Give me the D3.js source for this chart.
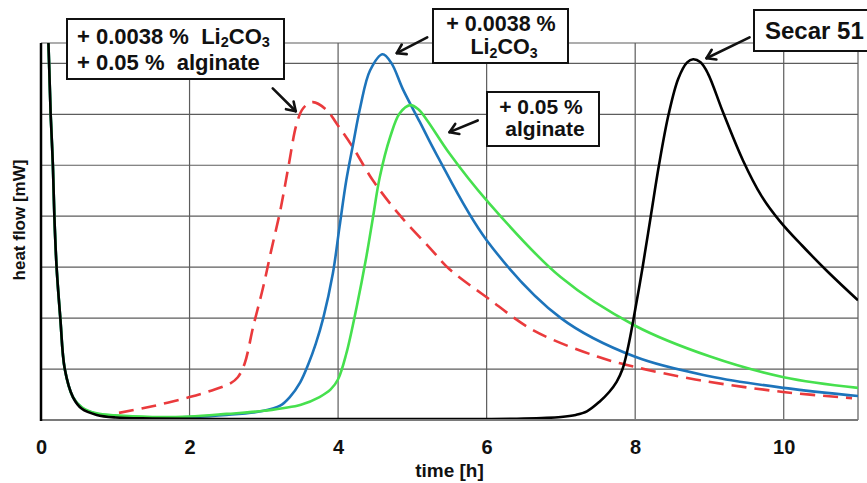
<!DOCTYPE html>
<html>
<head>
<meta charset="utf-8">
<script src="https://cdn.jsdelivr.net/npm/d3@7"></script>
<style>
  html, body { margin: 0; padding: 0; background: #fff; }
  svg { display: block; font-family: "Liberation Sans", Arial, sans-serif; }
</style>
</head>
<body>
<svg id="chart" width="867" height="483"></svg>
<script>
// Heat flow calorimetry curves: time [h] vs heat flow (grid units)
const xTicks = [0, 2, 4, 6, 8, 10];
const yGrid = [1, 2, 3, 4, 5, 6, 7];

// Secar 51 reference cement
const secar51 = [
  [0.06, 9.0], [0.1, 7.4], [0.13, 6.0], [0.16, 5.0], [0.18, 4.0], [0.21, 3.0],
  [0.26, 2.0], [0.32, 1.0], [0.43, 0.45], [0.55, 0.22], [0.75, 0.1], [1.0, 0.05],
  [1.5, 0.03], [2.5, 0.02], [4.0, 0.02], [5.5, 0.02], [6.5, 0.03], [7.0, 0.06],
  [7.2, 0.1], [7.35, 0.17], [7.52, 0.36], [7.65, 0.55], [7.75, 0.75], [7.83, 1.0],
  [7.9, 1.4], [7.98, 2.0], [8.1, 3.0], [8.21, 4.0], [8.32, 5.0], [8.45, 6.0],
  [8.58, 6.7], [8.7, 7.02], [8.78, 7.08], [8.88, 7.02], [8.98, 6.8], [9.18, 6.05],
  [9.45, 5.1], [9.7, 4.4], [9.95, 3.9], [10.25, 3.42], [10.6, 2.9], [11.0, 2.35]
];

// + 0.0038 % Li2CO3
const withLi = [
  [0.06, 9.0], [0.1, 7.4], [0.13, 6.0], [0.16, 5.0], [0.18, 4.0], [0.21, 3.0],
  [0.26, 2.0], [0.32, 1.0], [0.43, 0.45], [0.55, 0.24], [0.75, 0.12], [1.0, 0.08],
  [1.5, 0.05], [2.0, 0.06], [2.5, 0.1], [3.0, 0.18], [3.22, 0.28], [3.35, 0.45],
  [3.49, 0.74], [3.6, 1.1], [3.7, 1.5], [3.8, 2.0], [3.93, 2.88], [4.02, 3.8],
  [4.11, 4.7], [4.2, 5.4], [4.3, 6.15], [4.43, 6.86], [4.6, 7.18], [4.72, 7.0],
  [4.87, 6.5], [5.1, 5.85], [5.33, 5.2], [6.0, 3.53], [7.0, 2.0], [8.0, 1.24],
  [9.0, 0.86], [10.0, 0.63], [11.0, 0.47]
];

// + 0.05 % alginate
const withAlginate = [
  [0.06, 9.0], [0.1, 7.4], [0.13, 6.0], [0.16, 5.0], [0.18, 4.0], [0.21, 3.0],
  [0.26, 2.0], [0.32, 1.0], [0.43, 0.45], [0.55, 0.25], [0.75, 0.13], [1.0, 0.09],
  [1.5, 0.06], [2.0, 0.07], [2.5, 0.12], [3.0, 0.18], [3.5, 0.3], [3.75, 0.45],
  [3.9, 0.6], [4.0, 0.8], [4.11, 1.3], [4.25, 2.22], [4.38, 3.2], [4.47, 3.98],
  [4.56, 4.76], [4.7, 5.55], [4.83, 6.02], [4.97, 6.18], [5.08, 6.1], [5.2, 5.88],
  [5.5, 5.23], [6.0, 4.31], [7.0, 2.8], [8.0, 1.85], [9.0, 1.25], [10.0, 0.84],
  [11.0, 0.63]
];

// + 0.0038 % Li2CO3 + 0.05 % alginate
const withLiAlginate = [
  [1.05, 0.14], [1.5, 0.27], [2.0, 0.45], [2.3, 0.58], [2.55, 0.72], [2.65, 0.84],
  [2.74, 1.1], [2.86, 1.85], [2.99, 2.6], [3.1, 3.33], [3.22, 4.1], [3.33, 4.96],
  [3.44, 5.8], [3.53, 6.12], [3.66, 6.24], [3.85, 6.08], [3.98, 5.82], [4.2, 5.35],
  [4.47, 4.7], [4.83, 4.02], [5.24, 3.37], [5.5, 2.96], [6.0, 2.41], [6.63, 1.76],
  [7.5, 1.24], [8.0, 1.04], [8.87, 0.78], [9.99, 0.55], [10.92, 0.43]
];

const series = [
  { data: withLiAlginate, color: "#ea3a3c", dash: "15,8" },
  { data: withLi,         color: "#1d74bb", dash: null },
  { data: withAlginate,   color: "#46e04e", dash: null },
  { data: secar51,        color: "#000000", dash: null }
];

const svg = d3.select("#chart");
const margin = { left: 41, right: 9, top: 43, bottom: 63 };
const W = 867, H = 483;

const x = d3.scaleLinear().domain([0, 11]).range([margin.left, W - margin.right]);
const y = d3.scaleLinear().domain([0, 7.4]).range([H - margin.bottom, margin.top]);

const x0 = x.range()[0], x1 = x.range()[1];
const y0 = y.range()[0], y1 = y.range()[1];

// grid
const grid = svg.append("g").attr("stroke", "#5c5c5c").attr("stroke-width", 1.2);
grid.selectAll("line.h").data(yGrid).join("line")
  .attr("x1", x0).attr("x2", x1)
  .attr("y1", d => y(d)).attr("y2", d => y(d));
grid.selectAll("line.v").data(xTicks.filter(d => d > 0)).join("line")
  .attr("x1", d => x(d)).attr("x2", d => x(d))
  .attr("y1", y1).attr("y2", y0);
grid.append("line").attr("x1", x0).attr("x2", x1).attr("y1", y1).attr("y2", y1);
grid.append("line").attr("x1", x1).attr("x2", x1).attr("y1", y1).attr("y2", y0);

// curves
svg.append("clipPath").attr("id", "plotClip")
  .append("rect").attr("x", x0).attr("y", y1).attr("width", x1 - x0).attr("height", y0 - y1);

const line = d3.line().x(d => x(d[0])).y(d => y(d[1])).curve(d3.curveCatmullRom.alpha(0.5));
svg.append("g").attr("clip-path", "url(#plotClip)")
  .selectAll("path").data(series).join("path")
  .attr("d", d => line(d.data))
  .attr("fill", "none")
  .attr("stroke", d => d.color)
  .attr("stroke-width", 2.6)
  .attr("stroke-dasharray", d => d.dash)
  .attr("stroke-linejoin", "round");

// axes
svg.append("line").attr("x1", x0).attr("x2", x1).attr("y1", y0).attr("y2", y0)
  .attr("stroke", "#7a7a7a").attr("stroke-width", 2);
svg.append("line").attr("x1", x0).attr("x2", x0).attr("y1", y1).attr("y2", y0 + 1)
  .attr("stroke", "#000").attr("stroke-width", 2.5);

const xAxis = svg.append("g").attr("transform", `translate(0,${y0})`)
  .call(d3.axisBottom(x).tickValues(xTicks).tickSize(0).tickPadding(20).tickFormat(d3.format("d")));
xAxis.select(".domain").remove();
xAxis.selectAll("text")
  .attr("font-family", "Liberation Sans, Arial, sans-serif")
  .attr("font-size", 20).attr("font-weight", "bold").attr("fill", "#111");

svg.append("text").attr("x", (x0 + x1) / 2).attr("y", 477)
  .attr("text-anchor", "middle").attr("font-size", 19).attr("font-weight", "bold")
  .attr("fill", "#111").text("time [h]");

svg.append("text").attr("transform", "translate(25,220) rotate(-90)")
  .attr("text-anchor", "middle").attr("font-size", 17).attr("font-weight", "bold")
  .attr("fill", "#111").text("heat flow [mW]");

// annotations
const arrows = [
  { from: [3.12, 6.51], to: [3.43, 6.06] },
  { from: [5.2, 7.51],  to: [4.79, 7.2] },
  { from: [5.88, 5.88], to: [5.5, 5.65] },
  { from: [9.54, 7.51], to: [8.96, 7.1] }
];
const ag = svg.append("g").attr("stroke", "#111").attr("stroke-width", 2.6)
  .attr("fill", "none").attr("stroke-linecap", "round").attr("stroke-linejoin", "round");
arrows.forEach(a => {
  const fx = x(a.from[0]), fy = y(a.from[1]), tx = x(a.to[0]), ty = y(a.to[1]);
  ag.append("line").attr("x1", fx).attr("y1", fy).attr("x2", tx).attr("y2", ty);
  const ang = Math.atan2(ty - fy, tx - fx), L = 10, s = Math.PI / 5.5;
  const p1 = [tx - L * Math.cos(ang - s), ty - L * Math.sin(ang - s)];
  const p2 = [tx - L * Math.cos(ang + s), ty - L * Math.sin(ang + s)];
  ag.append("path").attr("d", `M${p1[0]},${p1[1]}L${tx},${ty}L${p2[0]},${p2[1]}`);
});

function box(bx, by, bw, bh) {
  svg.append("rect").attr("x", bx).attr("y", by).attr("width", bw).attr("height", bh)
    .attr("fill", "#fff").attr("stroke", "#111").attr("stroke-width", 2);
}
// text with optional subscript runs, each part is { t } or { sub }
function label(tx, ty, anchor, size, parts, shift) {
  const t = svg.append("text").attr("x", tx).attr("y", ty).attr("text-anchor", anchor)
    .attr("font-size", size).attr("font-weight", "bold").attr("fill", "#111")
    .style("white-space", "pre");
  const dy = shift != null ? shift : Math.round(size * 0.2);
  let lowered = false;
  parts.forEach(p => {
    const span = t.append("tspan");
    if (p.sub) {
      span.attr("font-size", size * 0.66).text(p.sub);
      if (!lowered) { span.attr("dy", dy); lowered = true; }
    } else {
      span.text(p.t);
      if (lowered) { span.attr("dy", -dy); lowered = false; }
    }
  });
}

box(67, 19, 217, 60);
label(77, 44, "start", 22, [{ t: "+ 0.0038 %  Li" }, { sub: "2" }, { t: "CO" }, { sub: "3" }], 3);
label(77, 70, "start", 22, [{ t: "+ 0.05 %  alginate" }]);

box(433, 9, 135, 54);
label(501, 31, "middle", 21.5, [{ t: "+ 0.0038 %" }]);
label(504, 54, "middle", 21.5, [{ t: "Li" }, { sub: "2" }, { t: "CO" }, { sub: "3" }]);

box(487, 92, 112, 54);
label(541, 114, "middle", 21, [{ t: "+ 0.05 %" }]);
label(545, 136, "middle", 21, [{ t: "alginate" }]);

box(754, 10, 120, 41);
label(765, 39, "start", 24, [{ t: "Secar 51" }]);
</script>
</body>
</html>
